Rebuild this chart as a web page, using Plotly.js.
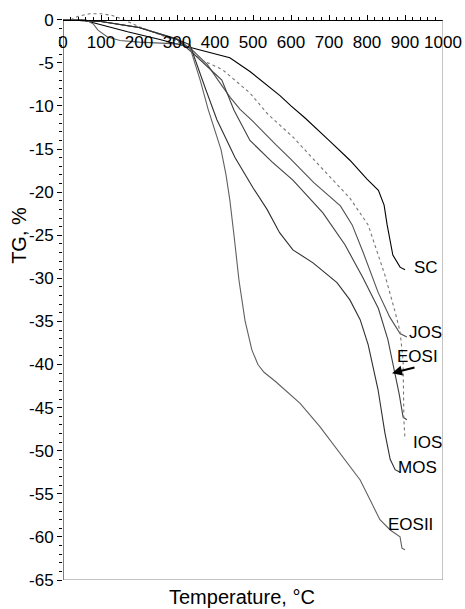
<!DOCTYPE html>
<html>
<head>
<meta charset="utf-8">
<script src="https://cdn.plot.ly/plotly-3.0.1.min.js"></script>
<style>html,body{margin:0;padding:0;background:#fff}#chart{width:465px;height:609px}</style>
</head>
<body>
<div id="chart"></div>
<script>
// ---- data ----
const scT   = [0, 50, 80, 170, 255, 340, 439, 492, 530, 571, 600, 637, 700, 755, 800, 830, 845, 853, 868, 887, 900];
const scTG  = [0, 0, -0.35, -1.4, -2.3, -3.3, -4.4, -6.0, -7.3, -8.8, -10.0, -11.4, -14.0, -16.3, -18.5, -19.8, -21.5, -23.8, -27.3, -28.7, -29.0];

const josT  = [0, 100, 200, 300, 340, 380, 408, 440, 466, 500, 560, 600, 660, 730, 761, 790, 829, 860, 887, 905];
const josTG = [0, -0.2, -0.9, -2.2, -3.5, -5.2, -7.0, -9.0, -10.4, -11.8, -14.5, -16.2, -18.9, -21.6, -23.8, -27.0, -31.6, -34.5, -36.4, -36.8];

const eosiT  = [0, 100, 200, 300, 340, 380, 418, 450, 492, 550, 605, 684, 742, 790, 830, 855, 874, 885, 895, 905];
const eosiTG = [0, -0.2, -0.9, -2.3, -3.8, -5.5, -7.0, -10.5, -14.0, -16.5, -18.6, -22.4, -26.1, -30.0, -33.5, -37.1, -41.0, -43.5, -46.1, -46.4];

const iosT  = [20, 40, 70, 100, 130, 160, 200, 255, 300, 340, 361, 420, 492, 540, 605, 668, 755, 803, 847, 874, 887, 895, 897, 900];
const iosTG = [0, 0.4, 0.7, 0.7, 0.5, 0, -0.8, -1.7, -2.5, -3.5, -4.6, -5.8, -8.5, -11.0, -13.6, -16.6, -20.7, -23.8, -29.6, -33.9, -36.2, -39.5, -46.4, -48.7];

const mosT  = [0, 100, 200, 300, 334, 347, 375, 405, 453, 500, 537, 570, 605, 658, 721, 755, 782, 803, 829, 847, 861, 874, 887];
const mosTG = [0, -0.2, -0.9, -2.3, -2.9, -4.6, -8.0, -11.6, -16.0, -19.5, -22.0, -24.7, -26.7, -28.2, -30.5, -32.5, -34.8, -37.7, -42.9, -47.9, -51.0, -52.2, -52.5];

const eosiiT  = [0, 60, 80, 92, 117, 150, 200, 260, 300, 334, 361, 382, 400, 416, 429, 439, 450, 463, 479, 497, 513, 529, 560, 624, 676, 737, 782, 808, 834, 861, 887, 892, 900];
const eosiiTG = [0, 0, -0.5, -1.2, -2.0, -2.4, -2.6, -2.7, -2.8, -3.2, -7.0, -10.4, -12.8, -15.1, -18.0, -20.9, -25.0, -30.2, -34.9, -38.3, -40.0, -40.9, -42.0, -44.5, -47.2, -50.7, -53.4, -55.7, -58.0, -59.2, -60.0, -61.3, -61.5];

const yTickVals   = [0, -5, -10, -15, -20, -25, -30, -35, -40, -45, -50, -55, -60, -65];
const yTickLabels = ['0', '-5', '-10', '-15', '-20', '-25', '-30', '-35', '-40', '-45', '-50', '-55', '-60', '-65'];
const xTickVals   = [0, 100, 200, 300, 400, 500, 600, 700, 800, 900, 1000];
const xTickLabels = ['0', '100', '200', '300', '400', '500', '600', '700', '800', '900', '1000'];

const seriesNames = ['SC', 'JOS', 'EOSI', 'IOS', 'MOS', 'EOSII'];

// ---- chart ----
const FONT = 'Liberation Sans, Arial, sans-serif';
const Y_MIN = -65, Y_MAX = 0.9;           // a little head-room so the IOS bump above 0 shows
const PX_PER_UNIT = 560 / 65;
const TOP = 20 - Y_MAX * PX_PER_UNIT;      // plot-area top in pixels
const AXIS_POS = (0 - Y_MIN) / (Y_MAX - Y_MIN);

function line(x, y, name, color, dash) {
  return {x: x, y: y, name: name, type: 'scatter', mode: 'lines',
          line: {color: color, width: 1.1, dash: dash || 'solid'}, hoverinfo: 'skip'};
}
const traces = [
  line(scT, scTG, seriesNames[0], '#000000'),
  line(josT, josTG, seriesNames[1], '#505050'),
  line(eosiT, eosiTG, seriesNames[2], '#404040'),
  line(iosT, iosTG, seriesNames[3], '#777777', 'dot'),
  line(mosT, mosTG, seriesNames[4], '#303030'),
  line(eosiiT, eosiiTG, seriesNames[5], '#606060')
];

const lblFont = {family: FONT, size: 17, color: '#000'};
function lbl(text, x, y) {
  return {text: text, x: x, y: y, xref: 'x', yref: 'y', showarrow: false, font: lblFont};
}

const layout = {
  width: 465, height: 609,
  margin: {l: 63, r: 22, t: TOP, b: 29, pad: 0},
  paper_bgcolor: '#fff', plot_bgcolor: '#fff',
  showlegend: false,
  font: {family: FONT, size: 17, color: '#000'},
  xaxis: {
    range: [0, 1000], anchor: 'free', position: AXIS_POS, side: 'bottom',
    tickvals: xTickVals, ticktext: xTickLabels,
    ticks: 'inside', ticklen: 5, tickcolor: '#000', tickwidth: 1,
    ticklabelstandoff: 7,
    minor: {dtick: 20, ticks: 'inside', ticklen: 3, tickcolor: '#000'},
    showline: true, linecolor: '#000', linewidth: 1,
    showgrid: false, zeroline: false,
    tickfont: {family: FONT, size: 17, color: '#000'}
  },
  yaxis: {
    range: [Y_MIN, Y_MAX],
    tickvals: yTickVals, ticktext: yTickLabels,
    ticks: 'outside', ticklen: 5, tickcolor: '#000', tickwidth: 1,
    minor: {dtick: 1, ticks: 'outside', ticklen: 3, tickcolor: '#000'},
    showline: false,
    showgrid: false, zeroline: false,
    tickfont: {family: FONT, size: 17, color: '#000'}
  },
  shapes: [
    {type: 'line', xref: 'x', yref: 'y', x0: 0, x1: 0, y0: 0, y1: -65, line: {color: '#000', width: 1}},
    {type: 'line', xref: 'x', yref: 'y', x0: 1000, x1: 1000, y0: 0, y1: -65, line: {color: '#888', width: 1}},
    {type: 'line', xref: 'x', yref: 'y', x0: 0, x1: 1000, y0: -65, y1: -65, line: {color: '#888', width: 1}}
  ],
  annotations: [
    {text: 'Temperature, °C', xref: 'paper', yref: 'paper', x: 0.47, y: 0, yanchor: 'middle', yshift: -17,
     showarrow: false, font: {family: FONT, size: 20, color: '#000'}},
    {text: 'TG, %', xref: 'paper', yref: 'paper', x: 0, y: (580 - 246) / (580 - TOP), xanchor: 'center', xshift: -44, yshift: 10,
     textangle: -90, showarrow: false, font: {family: FONT, size: 20, color: '#000'}},
    lbl('SC', 955, -28.8),
    lbl('JOS', 953, -36.3),
    lbl('EOSI', 934, -39.1),
    lbl('IOS', 960, -49.0),
    lbl('MOS', 934, -52.0),
    lbl('EOSII', 915, -58.6),
    {text: '', x: 866, y: -41.0, xref: 'x', yref: 'y', ax: 929, ay: -40.3, axref: 'x', ayref: 'y',
     showarrow: true, arrowhead: 2, arrowsize: 1, arrowwidth: 2, arrowcolor: '#000'}
  ]
};

Plotly.newPlot('chart', traces, layout, {staticPlot: true, displayModeBar: false});
</script>
</body>
</html>
